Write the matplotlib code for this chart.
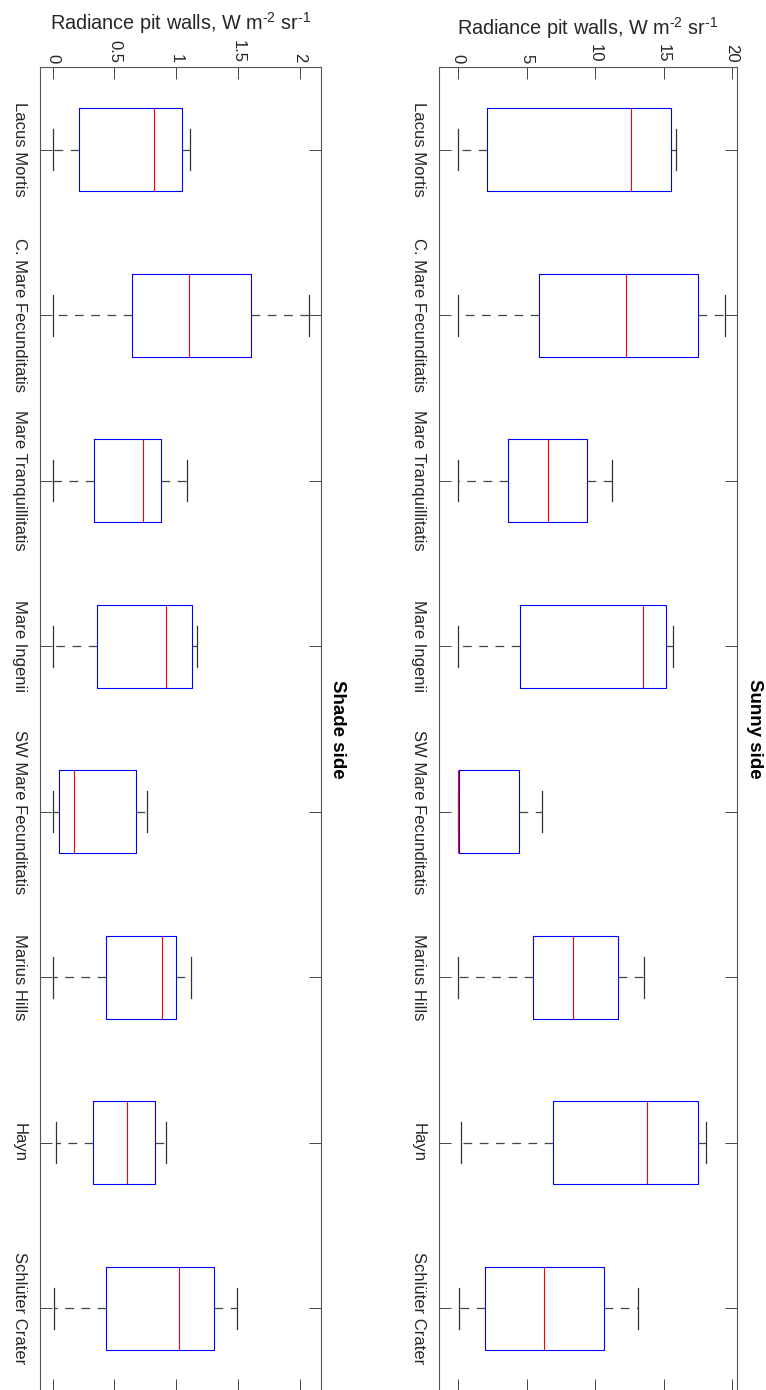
import matplotlib
matplotlib.use("Agg")
import matplotlib.pyplot as plt

plt.rcParams['font.family'] = ['Liberation Sans', 'DejaVu Sans']
plt.rcParams['mathtext.fontset'] = 'custom'
plt.rcParams['mathtext.rm'] = 'Liberation Sans'
plt.rcParams['mathtext.it'] = 'Liberation Sans'

# site names (top to bottom)
sites = ['Lacus Mortis', 'C. Mare Fecunditatis', 'Mare Tranquillitatis', 'Mare Ingenii',
         'SW Mare Fecunditatis', 'Marius Hills', 'Hayn', 'Schlüter Crater']

# shade side box stats, W m-2 sr-1
shade_lo = [0.0, 0.0, 0.0, 0.0, 0.0, 0.0, 0.024, 0.011]
shade_q1 = [0.216, 0.645, 0.332, 0.356, 0.051, 0.432, 0.329, 0.429]
shade_med = [0.823, 1.106, 0.734, 0.917, 0.172, 0.882, 0.602, 1.02]
shade_q3 = [1.044, 1.603, 0.877, 1.125, 0.677, 1.001, 0.826, 1.309]
shade_hi = [1.112, 2.073, 1.085, 1.168, 0.761, 1.12, 0.917, 1.492]

# sunny side box stats
sunny_lo = [0.0, 0.0, 0.0, 0.0, 0.0, 0.0, 0.2, 0.05]
sunny_q1 = [2.10, 5.92, 3.66, 4.49, 0.02, 5.48, 6.95, 1.93]
sunny_med = [12.6, 12.28, 6.56, 13.48, 0.0, 8.36, 13.82, 6.24]
sunny_q3 = [15.57, 17.54, 9.38, 15.16, 4.44, 11.7, 17.54, 10.63]
sunny_hi = [15.89, 19.47, 11.21, 15.72, 6.12, 13.57, 18.08, 13.16]

shade_ticks = [0, 0.5, 1, 1.5, 2]
shade_ticklabels = ['0', '0.5', '1', '1.5', '2']
sunny_ticks = [0, 5, 10, 15, 20]
sunny_ticklabels = ['0', '5', '10', '15', '20']

TXT = '#262626'


def make_stats(lo, q1, med, q3, hi):
    out = []
    for i in range(len(sites)):
        out.append(dict(whislo=lo[i], q1=q1[i], med=med[i], q3=q3[i], whishi=hi[i],
                        fliers=[], label=sites[i]))
    return out


def draw_panel(ax, stats, xlim, ticks, ticklabels, title):
    ax.bxp(stats, positions=list(range(1, len(sites) + 1)), widths=0.5, capwidths=0.25,
           orientation='horizontal', showfliers=False,
           boxprops=dict(color='#0000ff', linewidth=0.8),
           medianprops=dict(color='#ff0000', linewidth=0.8),
           whiskerprops=dict(color='#444444', linewidth=0.9, linestyle=(0, (7, 6))),
           capprops=dict(color='#333333', linewidth=0.9))
    ax.set_xlim(xlim)
    ax.set_ylim(8.5, 0.5)
    ax.set_yticks(list(range(1, len(sites) + 1)))
    ax.set_yticklabels(sites, rotation=-90, va='center', fontsize=12, color=TXT)
    ax.set_xticks(ticks)
    ax.set_xticklabels(ticklabels, fontsize=12, color=TXT)
    ax.xaxis.set_ticks_position('both')
    ax.yaxis.set_ticks_position('both')
    ax.tick_params(axis='both', direction='in', length=8.6, width=0.7, color='#444444')
    ax.tick_params(axis='x', labeltop=True, labelbottom=False, labelrotation=-90, pad=3)
    ax.tick_params(axis='y', pad=9.5)
    ax.xaxis.set_label_position('top')
    ax.set_xlabel(r'Radiance pit walls, W m$^{\mathrm{\text{-}2}}$ sr$^{\mathrm{\text{-}1}}$',
                  fontsize=14.3, color=TXT, labelpad=7)
    for s in ax.spines.values():
        s.set_color('#555555')
        s.set_linewidth(0.8)
    ax.annotate(title, xy=(1.0, 0.5), xycoords='axes fraction', xytext=(6, 0),
                textcoords='offset points', rotation=-90, ha='left', va='center',
                fontsize=13.5, fontweight='bold', color='black')


fig = plt.figure(figsize=(7.66, 13.9), dpi=100)
ax_shade = fig.add_axes([40 / 766, -1 / 1390, 281 / 766, 1324 / 1390])
ax_sunny = fig.add_axes([438.7 / 766, -1 / 1390, 298.6 / 766, 1324 / 1390])

draw_panel(ax_shade, make_stats(shade_lo, shade_q1, shade_med, shade_q3, shade_hi),
           (-0.103, 2.173), shade_ticks, shade_ticklabels, 'Shade side')
draw_panel(ax_sunny, make_stats(sunny_lo, sunny_q1, sunny_med, sunny_q3, sunny_hi),
           (-1.43, 20.39), sunny_ticks, sunny_ticklabels, 'Sunny side')

fig.savefig('out.png', dpi=100)
